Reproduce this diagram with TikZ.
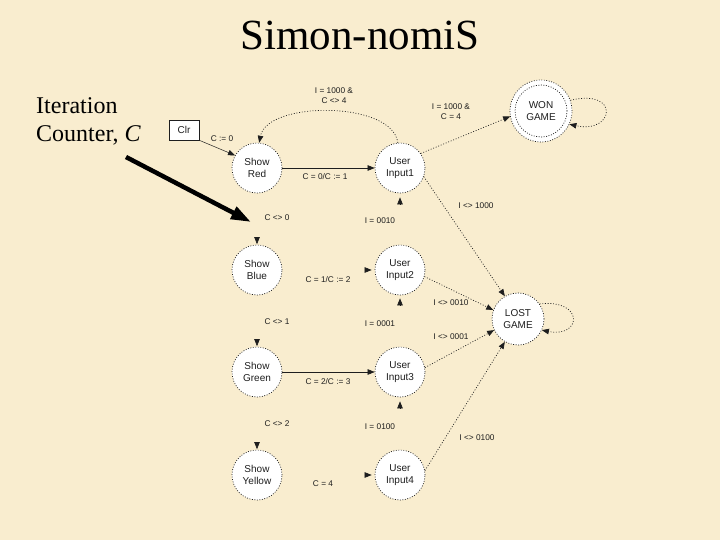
\documentclass[tikz,border=0pt]{standalone}
\usepackage{fontspec}
\setmainfont{Liberation Serif}
\newfontfamily\arial{Liberation Sans}
\usetikzlibrary{arrows.meta}
\definecolor{paper}{RGB}{249,237,207}
\definecolor{ink}{RGB}{30,30,30}
\begin{document}
\begin{tikzpicture}[x=1pt,y=-1pt,
  state/.style={circle, draw=ink, fill=white, line width=0.7pt, dash pattern=on 0.9pt off 1.6pt,
    minimum size=50pt, inner sep=0pt, align=center, font=\arial\fontsize{10}{12.5}\selectfont, text=ink},
  lbl/.style={font=\arial\fontsize{8.3}{10}\selectfont, text=ink, align=center, inner sep=0pt},
  arrtip/.style={-{Triangle[length=7pt,width=5.5pt]}},
  solidedge/.style={arrtip, draw=ink, line width=0.6pt},
  dotedge/.style={arrtip, draw=ink, line width=0.7pt, dash pattern=on 0.9pt off 1.8pt},
  ghost/.style args={#1/#2}{arrtip, draw=ink, line width=0.6pt, shorten >=#1, shorten <=#2},
  boxnode/.style={draw=ink, fill=white, line width=0.6pt, minimum width=30pt, minimum height=20pt,
    inner sep=0pt, font=\arial\fontsize{10}{12}\selectfont, text=ink}
]
\fill[paper] (0,0) rectangle (720,540);
\useasboundingbox (0,0) rectangle (720,540);

% title and side text
\node[anchor=base, font=\fontsize{43}{48}\selectfont] (title) at (360,50) {Simon-nomiS};
\node[anchor=base west, font=\fontsize{24}{28}\selectfont, inner sep=0pt] (iter) at (36,114) {Iteration};
\node[anchor=base west, font=\fontsize{24}{28}\selectfont, inner sep=0pt] (counter) at (36,142) {Counter, \textit{C}};
\coordinate (pstart) at (126,157);
\coordinate (pend) at (251,222);
\draw[line width=4.5pt, -{Triangle[length=20pt,width=13pt]}] (pstart) -- (pend);

% states
\node[state] (sr) at (257,168) {Show\\Red};
\node[state] (ui1) at (400,168) {User\\Input1};
\node[state] (sb) at (257,270) {Show\\Blue};
\node[state] (ui2) at (400,270) {User\\Input2};
\node[state] (sg) at (257,372) {Show\\Green};
\node[state] (ui3) at (400,372) {User\\Input3};
\node[state] (sy) at (257,475) {Show\\Yellow};
\node[state] (ui4) at (400,475) {User\\Input4};
\node[state, minimum size=62pt] (won) at (541,111) {WON\\GAME};
\draw[ink, line width=0.7pt, dash pattern=on 0.9pt off 1.6pt] (won.center) circle (26pt);
\node[state, minimum size=52pt] (lost) at (518,319) {LOST\\GAME};
\node[boxnode] (clr) at (184,130) {Clr};

% edges
\draw[solidedge, line width=0.5pt] (clr.south east) -- (sr.150);
\draw[solidedge] (sr) -- (ui1);
\draw[solidedge, line width=0.5pt] (sg) -- (ui3);
\draw[dotedge] (ui1.95) .. controls +(-5,-42) and +(8,-42) .. (sr.85);
\draw[dotedge] (ui1.35) -- (won.190);
\draw[dotedge] (won.20) .. controls +(50,-12) and +(45,10) .. (won.-25);
\draw[dotedge] (ui1.-20) -- (lost.120);
\draw[dotedge] (ui2.-15) -- (lost.160);
\draw[dotedge] (ui3.10) -- (lost.205);
\draw[dotedge] (ui4.10) -- (lost.240);
\draw[dotedge] (lost.35) .. controls +(45,-5) and +(40,8) .. (lost.-25);

% arrowheads of the unseen connectors
\draw[ghost=0.5pt/44.3pt] (sr) -- (sb);
\draw[ghost=0.5pt/44.3pt] (sb) -- (sg);
\draw[ghost=0.5pt/45.3pt] (sg) -- (sy);
\draw[ghost=4pt/40.8pt] (ui2) -- (ui1);
\draw[ghost=3pt/41.8pt] (ui3) -- (ui2);
\draw[ghost=4pt/41.8pt] (ui4) -- (ui3);
\draw[ghost=3pt/82.8pt] (sb) -- (ui2);
\draw[ghost=3pt/82.8pt] (sy) -- (ui4);

% labels
\node[lbl] (l1) at (222,139) {C := 0};
\node[lbl] (l2) at (334,96) {I = 1000 \&\\C <> 4};
\node[lbl] (l3) at (325,177) {C = 0/C := 1};
\node[lbl] (l4) at (451,112) {I = 1000 \&\\C = 4};
\node[lbl] (l5) at (476,206) {I <> 1000};
\node[lbl] (l6) at (277,218) {C <> 0};
\node[lbl] (l7) at (380,221) {I = 0010};
\node[lbl] (l8) at (328,280) {C = 1/C := 2};
\node[lbl] (l9) at (451,303) {I <> 0010};
\node[lbl] (l10) at (277,322) {C <> 1};
\node[lbl] (l11) at (380,324) {I = 0001};
\node[lbl] (l12) at (451,337) {I <> 0001};
\node[lbl] (l13) at (328,382) {C = 2/C := 3};
\node[lbl] (l14) at (277,424) {C <> 2};
\node[lbl] (l15) at (380,427) {I = 0100};
\node[lbl] (l16) at (477,438) {I <> 0100};
\node[lbl] (l17) at (323,484) {C = 4};
\end{tikzpicture}
\end{document}
